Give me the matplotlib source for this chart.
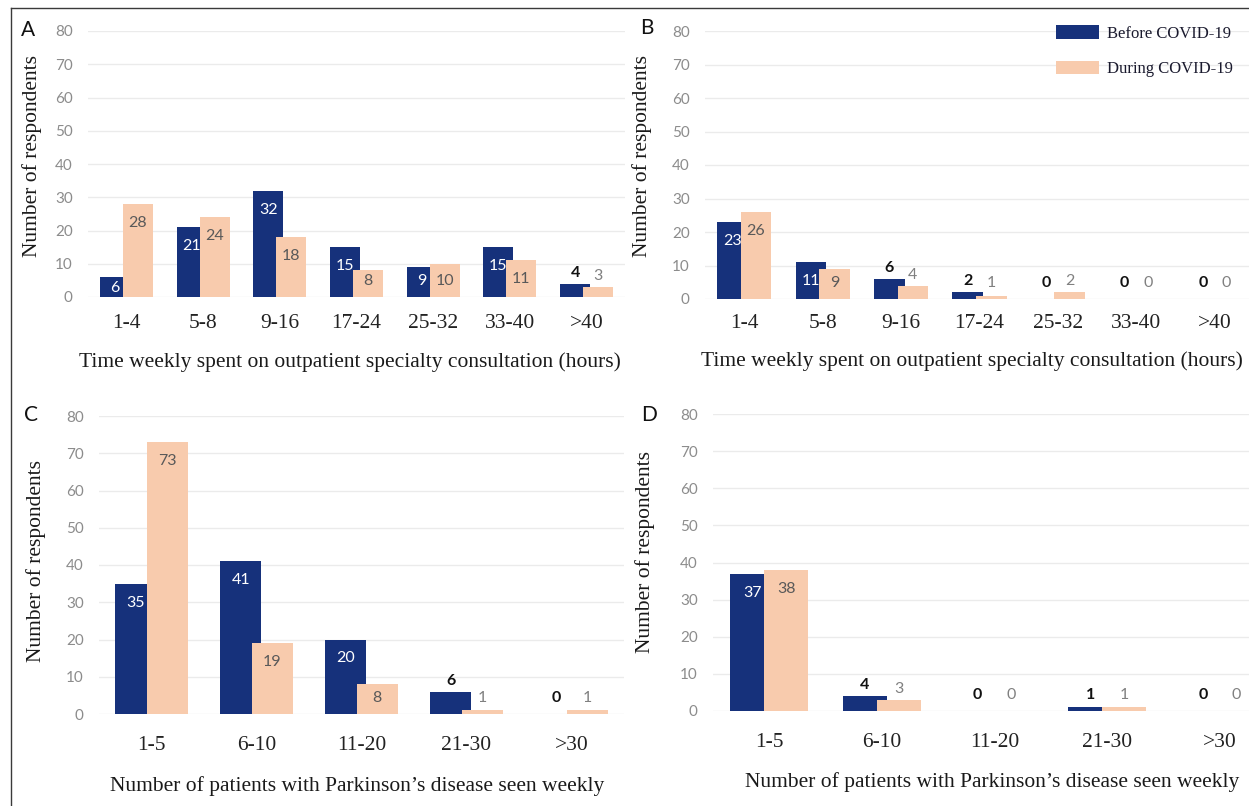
import numpy as np
import matplotlib
matplotlib.use('Agg')
import matplotlib.pyplot as plt
from matplotlib.lines import Line2D
from matplotlib.patches import Patch

# data
cats_hours = ['1-4', '5-8', '9-16', '17-24', '25-32', '33-40', '>40']
a_before = [6, 21, 32, 15, 9, 15, 4]
a_during = [28, 24, 18, 8, 10, 11, 3]
b_before = [23, 11, 6, 2, 0, 0, 0]
b_during = [26, 9, 4, 1, 2, 0, 0]

cats_pat = ['1-5', '6-10', '11-20', '21-30', '>30']
c_before = [35, 41, 20, 6, 0]
c_during = [73, 19, 8, 1, 1]
d_before = [37, 4, 0, 1, 0]
d_during = [38, 3, 0, 1, 0]

legend_labels = ['Before COVID-19', 'During COVID-19']
xlab_hours = 'Time weekly spent on outpatient specialty consultation (hours)'
xlab_pat = 'Number of patients with Parkinson\u2019s disease seen weekly'
ylab = 'Number of respondents'

W, H = 1249, 806
NAVY = '#16317b'
PEACH = '#f8cbad'
SERIF = 'Liberation Serif'
SANS = 'Lato'

fig = plt.figure(figsize=(W / 100, H / 100), dpi=100)


def px_rect(l, r, t, b):
    return [l / W, 1 - b / H, (r - l) / W, (b - t) / H]


def panel(rect, cats, before, during, letter, xlab, inside_min,
          tick_y, xlab_xy, ylab_xy, letter_xy):
    l, r, t, b = rect
    ax = fig.add_axes(px_rect(l, r, t, b))
    ppu = (b - t) / 80.0  # pixels per unit
    x = np.arange(len(cats))
    w, off = 0.39, 0.15

    ax.bar(x - off, before, w, color=NAVY, zorder=2)
    ax.bar(x + off, during, w, color=PEACH, zorder=4)

    for series, dx, in_col, out_col, out_w, z in [
            (before, -off, 'white', '#111111', 'bold', 3),
            (during, off, '#595959', '#808080', 'normal', 5)]:
        for xi, v in zip(x, series):
            vp = v * ppu
            if v >= inside_min:
                c = min(vp - 11, max(vp - 19, 16))
                col, fw = in_col, 'normal'
            else:
                c = max(vp + 11, 16)
                col, fw = out_col, out_w
            ax.text(xi + dx, c / ppu, str(v), ha='center', va='center',
                    fontsize=11.5, family=SANS, color=col, fontweight=fw,
                    zorder=z)

    ax.set_xlim(-0.5, len(cats) - 0.5)
    ax.set_ylim(0, 80)
    ax.set_yticks(np.arange(0, 81, 10))
    ax.grid(axis='y', color='#ebebeb', linewidth=1, zorder=0)
    ax.set_axisbelow(True)
    for s in ax.spines.values():
        s.set_visible(False)
    ax.tick_params(axis='y', length=0, pad=11, labelsize=11,
                   labelcolor='#8c8c8c')
    for lab in ax.get_yticklabels():
        lab.set_family(SANS)
    ax.set_xticks([])

    # category labels below the axis
    for xi, c in zip(x, cats):
        ax.text(xi, 1 - (tick_y - t) / (b - t), c,
                transform=ax.get_xaxis_transform(), ha='center', va='center',
                fontsize=15.5, family=SERIF, color='#222222')

    fig.text(xlab_xy[0] / W, 1 - xlab_xy[1] / H, xlab, ha='center',
             va='center', fontsize=15.5, family=SERIF, color='#1a1a1a')
    fig.text(ylab_xy[0] / W, 1 - ylab_xy[1] / H, ylab, ha='center',
             va='center', rotation=90, fontsize=15.5, family=SERIF,
             color='#1a1a1a')
    fig.text(letter_xy[0] / W, 1 - letter_xy[1] / H, letter, ha='center',
             va='center', fontsize=15, family=SANS, color='#111111')
    return ax


axA = panel((88, 625, 31, 297), cats_hours, a_before, a_during, 'A',
            xlab_hours, 5, 323, (350, 362), (32, 156), (28, 30))
axB = panel((705, 1254, 31, 299), cats_hours, b_before, b_during, 'B',
            xlab_hours, 7, 323, (972, 361), (642, 156), (647, 28))
axC = panel((99, 624, 416, 714), cats_pat, c_before, c_during, 'C',
            xlab_pat, 7, 745, (357, 786), (36, 561), (31, 415))
axD = panel((713, 1276, 414, 711), cats_pat, d_before, d_during, 'D',
            xlab_pat, 7, 742, (992, 782), (645, 552), (649, 415))

handles = [Patch(facecolor=NAVY), Patch(facecolor=PEACH)]
fig.legend(handles, legend_labels, loc='upper right',
           bbox_to_anchor=(1241 / W, 1 - 17 / H), frameon=False,
           prop={'family': SERIF, 'size': 12}, handlelength=2.6,
           handleheight=0.85, labelspacing=1.15, handletextpad=0.45,
           borderpad=0, labelcolor='#1a1a2e')

# thin frame round the figure
fig.add_artist(Line2D([10.5 / W, 1], [1 - 7.5 / H, 1 - 7.5 / H],
                      color='#3a3a3a', lw=1))
fig.add_artist(Line2D([10.5 / W, 10.5 / W], [0, 1 - 7.5 / H],
                      color='#3a3a3a', lw=1))

fig.savefig('out.png', dpi=100, facecolor='white')
